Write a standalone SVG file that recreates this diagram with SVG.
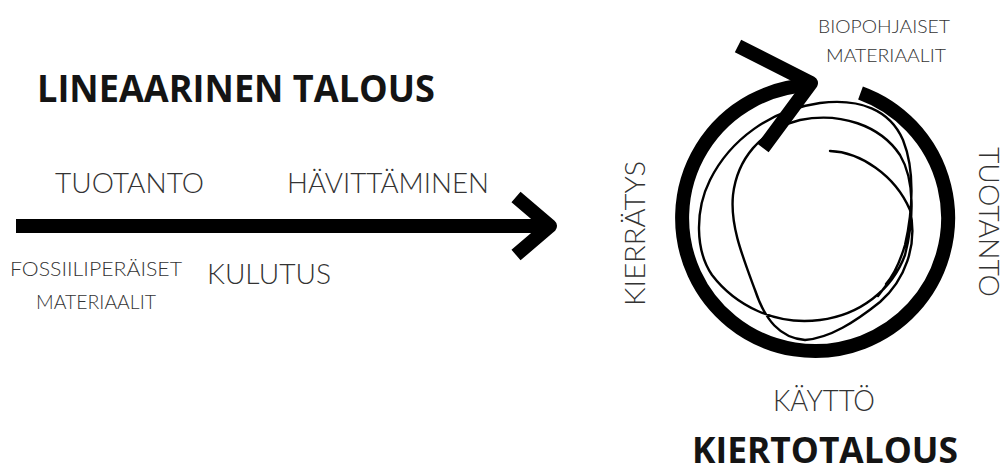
<svg xmlns="http://www.w3.org/2000/svg" width="1005" height="475" viewBox="0 0 1005 475">
  <style>
    .title { font-family: "Open Sans", "Liberation Sans", sans-serif; font-weight: 700; fill: #141414; }
    .label { font-family: Lato, "Open Sans", "Liberation Sans", sans-serif; font-weight: 300; fill: #333; }
    .thick { fill: none; stroke: #000; stroke-width: 14; stroke-linecap: butt; stroke-linejoin: round; }
    .thin { fill: none; stroke: #000; stroke-width: 2.4; stroke-linecap: round; stroke-linejoin: round; }
  </style>
  <rect width="1005" height="475" fill="#fff"/>

  <!-- Linear economy -->
  <g id="linear-title">
    <text class="title" x="37" y="102" font-size="37" textLength="398" lengthAdjust="spacingAndGlyphs">LINEAARINEN TALOUS</text>
  </g>
  <g id="linear-production">
    <text class="label" x="55" y="193" font-size="28" textLength="149" lengthAdjust="spacingAndGlyphs">TUOTANTO</text>
  </g>
  <g id="linear-disposal">
    <text class="label" x="287" y="193" font-size="28" textLength="202" lengthAdjust="spacingAndGlyphs">HÄVITTÄMINEN</text>
  </g>
  <g id="linear-consumption">
    <text class="label" x="207" y="284" font-size="28" textLength="124" lengthAdjust="spacingAndGlyphs">KULUTUS</text>
  </g>
  <g id="fossil-materials">
    <text class="label" x="10" y="276" font-size="20" textLength="172" lengthAdjust="spacingAndGlyphs">FOSSIILIPERÄISET</text>
    <text class="label" x="36" y="309" font-size="20" textLength="120" lengthAdjust="spacingAndGlyphs">MATERIAALIT</text>
  </g>

  <!-- Circular economy -->
  <g id="bio-materials">
    <text class="label" x="818" y="33" font-size="18" textLength="132" lengthAdjust="spacingAndGlyphs">BIOPOHJAISET</text>
    <text class="label" x="826" y="62" font-size="18" textLength="120" lengthAdjust="spacingAndGlyphs">MATERIAALIT</text>
  </g>
  <g id="recycling">
    <text class="label" transform="translate(645,306) rotate(-90)" font-size="28" textLength="145" lengthAdjust="spacingAndGlyphs">KIERRÄTYS</text>
  </g>
  <g id="circular-production">
    <text class="label" transform="translate(979,147) rotate(90)" font-size="28" textLength="150" lengthAdjust="spacingAndGlyphs">TUOTANTO</text>
  </g>
  <g id="use">
    <text class="label" x="773" y="411" font-size="29" textLength="102" lengthAdjust="spacingAndGlyphs">KÄYTTÖ</text>
  </g>
  <g id="circular-title">
    <text class="title" x="692" y="463" font-size="35" textLength="266" lengthAdjust="spacingAndGlyphs">KIERTOTALOUS</text>
  </g>

  <g id="connectors">
    <!-- straight flow arrow -->
    <path class="thick" d="M16 226 H548" stroke-width="12"/>
    <path class="thick" d="M516 197 L550 226 L516 255" stroke-width="12" stroke-linecap="round"/>
    <!-- loop ring with arrowhead at the top -->
    <path class="thick" d="M860.5 93 A133 133 0 1 1 810.4 85.1"/>
    <path class="thick" d="M738 46 L811 83 L763 148"/>
    <!-- hand-drawn inner loops -->
    <path class="thin" d="M830 151 C860 152 895 175 910 210 C918 245 905 280 880 302 C855 322 830 338 805 340 C780 338 765 320 755 290 C742 255 730 225 733 195 C737 160 760 130 800 120 C840 112 880 125 900 155 C915 180 914 220 905 255 C892 290 860 315 820 320 C775 326 735 305 712 275 C695 250 695 210 710 180 C730 140 770 110 820 103 C860 98 890 110 903 140 C915 170 913 210 905 245 C899 265 893 276 886 284 L897 271 L878 296"/>
  </g>
</svg>
